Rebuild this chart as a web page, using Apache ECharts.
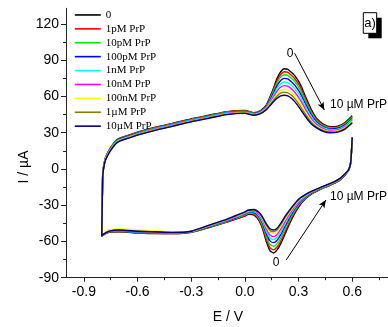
<!DOCTYPE html>
<html><head><meta charset="utf-8">
<script src="https://cdn.jsdelivr.net/npm/echarts@6/dist/echarts.min.js"></script>
<style>html,body{margin:0;padding:0;background:#fff}#c{width:388px;height:327px}</style>
</head><body><div id="c"></div>
<script>
// ---- data ----
const seriesNames = ['0', '1pM PrP', '10pM PrP', '100pM PrP', '1nM PrP', '10nM PrP', '100nM PrP', '1\u00B5M PrP', '10\u00B5M PrP'];
const potentialForward = [-0.8, -0.795, -0.79, -0.78, -0.76, -0.74, -0.72, -0.7, -0.65, -0.6, -0.5, -0.4, -0.3, -0.2, -0.1, 0.0, 0.05, 0.09, 0.12, 0.15, 0.18, 0.2, 0.22, 0.24, 0.26, 0.28, 0.31, 0.34, 0.37, 0.4, 0.44, 0.48, 0.52, 0.56, 0.6];
const potentialReverse = [0.6, 0.595, 0.59, 0.58, 0.56, 0.53, 0.5, 0.46, 0.42, 0.38, 0.34, 0.3, 0.26, 0.23, 0.2, 0.18, 0.16, 0.14, 0.12, 0.1, 0.08, 0.05, 0.02, 0.0, -0.05, -0.1, -0.2, -0.3, -0.4, -0.5, -0.6, -0.7, -0.76, -0.8];

const fwd0    = [-55, -5, 2, 9, 15.5, 20, 23.5, 25.5, 28, 30.5, 34.5, 38, 41.5, 44.5, 47.5, 48.5, 46.5, 48.5, 53, 63, 75, 80.5, 83, 82.5, 80, 77, 70, 59.5, 49.5, 42, 37, 35, 35.5, 38.5, 44];
const fwd1pM  = [-55.1, -5.2, 1.8, 8.8, 15.2, 19.7, 23.2, 25.2, 27.7, 30.2, 34.2, 37.7, 41.2, 44.2, 47.2, 48.2, 46.3, 48.2, 52.5, 62, 73.1, 78.2, 80.5, 80, 77.5, 74.5, 67.7, 57.6, 48.1, 41.1, 36.3, 34.4, 34.9, 37.9, 43.3];
const fwd10pM = [-55.2, -5.5, 1.5, 8.5, 14.9, 19.4, 22.9, 24.9, 27.4, 29.9, 33.9, 37.4, 40.9, 43.9, 46.9, 47.9, 46, 47.9, 52.1, 61, 71.3, 76, 78, 77.5, 75.1, 72.1, 65.3, 55.8, 46.8, 40.2, 35.6, 33.9, 34.4, 37.3, 42.6];
const fwd100pM= [-55.4, -5.7, 1.3, 8.3, 14.6, 19.1, 22.6, 24.6, 27.1, 29.6, 33.6, 37.1, 40.6, 43.6, 46.6, 47.6, 45.8, 47.6, 51.5, 59.7, 69, 73.2, 75, 74.5, 72.2, 69.2, 62.5, 53.5, 45.1, 39.1, 34.8, 33.2, 33.7, 36.5, 41.8];
const fwd1nM  = [-55.5, -6, 1, 8, 14.3, 18.8, 22.3, 24.3, 26.8, 29.3, 33.3, 36.8, 40.3, 43.3, 46.3, 47.3, 45.5, 47.3, 51, 58.5, 66.8, 70.5, 72, 71.5, 69.3, 66.3, 59.8, 51.3, 43.5, 38, 34, 32.5, 33, 35.8, 41];
const fwd10nM = [-55.6, -6.3, 0.7, 7.7, 13.9, 18.4, 21.9, 23.9, 26.4, 28.9, 32.9, 36.4, 39.9, 42.9, 45.9, 46.9, 45.2, 46.9, 50.5, 57.3, 64.5, 67.8, 69, 68.5, 66.3, 63.3, 57, 49, 41.9, 36.9, 33.2, 31.8, 32.3, 35, 40.2];
const fwd100nM= [-55.8, -6.5, 0.5, 7.5, 13.6, 18.1, 21.6, 23.6, 26.1, 28.6, 32.6, 36.1, 39.6, 42.6, 45.6, 46.6, 45, 46.6, 49.9, 56, 62.2, 65, 66, 65.5, 63.4, 60.4, 54.2, 46.7, 40.2, 35.8, 32.4, 31.1, 31.6, 34.2, 39.4];
const fwd1uM  = [-55.9, -6.8, 0.2, 7.2, 13.3, 17.8, 21.3, 23.3, 25.8, 28.3, 32.3, 35.8, 39.3, 42.3, 45.3, 46.3, 44.7, 46.3, 49.5, 55, 60.4, 62.8, 63.5, 63, 61, 58, 51.8, 44.9, 38.9, 34.9, 31.7, 30.6, 31.1, 33.6, 38.7];
const fwd10uM = [-56, -7, 0, 7, 13, 17.5, 21, 23, 25.5, 28, 32, 35.5, 39, 42, 45, 46, 44.5, 46, 49, 54, 58.5, 60.5, 61, 60.5, 58.5, 55.5, 49.5, 43, 37.5, 34, 31, 30, 30.5, 33, 38];

const rev0    = [26, 12, 4, -1, -5, -9.5, -12, -14.5, -17, -20, -24.5, -31.5, -42, -52, -62, -67, -69.5, -67.5, -60, -50, -43, -38, -37.5, -39, -41.5, -44, -48.5, -52.5, -53.5, -53.5, -53, -52, -52.5, -55];
const rev1pM  = [26, 12, 4, -0.9, -4.9, -9.3, -11.8, -14.3, -16.8, -19.7, -24, -30.6, -40.7, -50.2, -59.8, -64.6, -67, -65.1, -58.1, -48.7, -42.1, -37.4, -37, -38.5, -41.1, -43.7, -48.2, -52.4, -53.4, -53.3, -52.8, -51.8, -52.4, -55];
const rev10pM = [26, 12, 4, -0.9, -4.7, -9.1, -11.6, -14.1, -16.6, -19.4, -23.5, -29.6, -39.1, -47.9, -57.1, -61.8, -64, -62.3, -55.8, -47.1, -41, -36.7, -36.5, -38, -40.6, -43.3, -47.9, -52.2, -53.2, -53.1, -52.6, -51.6, -52.2, -55];
const rev100pM= [26, 12, 4, -0.8, -4.6, -8.8, -11.3, -13.8, -16.3, -19.1, -22.9, -28.6, -37.5, -45.7, -54.4, -59, -61, -59.5, -53.5, -45.5, -39.9, -36, -35.9, -37.4, -40.2, -42.9, -47.6, -52.1, -53.1, -52.8, -52.3, -51.3, -52.1, -55.5];
const rev1nM  = [26, 12, 4, -0.7, -4.4, -8.6, -11.1, -13.6, -16.1, -18.8, -22.5, -27.7, -36.2, -43.9, -52.2, -56.6, -58.5, -57.1, -51.6, -44.2, -38.9, -35.4, -35.5, -37, -39.8, -42.6, -47.3, -51.9, -52.9, -52.6, -52.1, -51.1, -51.9, -56];
const rev10nM = [26, 12, 4, -0.6, -4.3, -8.4, -10.9, -13.4, -15.9, -18.6, -22, -26.9, -34.9, -42, -49.9, -54.2, -56, -54.7, -49.7, -42.9, -38, -34.8, -35, -36.5, -39.4, -42.2, -47.1, -51.8, -52.8, -52.4, -51.9, -50.9, -51.8, -55.5];
const rev100nM= [26, 12, 4, -0.6, -4.2, -8.2, -10.7, -13.2, -15.7, -18.3, -21.6, -26, -33.6, -40.2, -47.7, -51.8, -53.5, -52.3, -47.8, -41.6, -37.1, -34.2, -34.6, -36.1, -39, -41.9, -46.8, -51.7, -52.2, -51, -50.5, -49.5, -50.5, -55];
const rev1uM  = [26, 12, 4, -0.5, -4.1, -8.1, -10.6, -13.1, -15.6, -18.2, -21.3, -25.5, -32.8, -39.1, -46.3, -50.4, -52, -50.9, -46.6, -40.8, -36.6, -33.9, -34.3, -35.8, -38.7, -41.7, -46.7, -51.6, -52.6, -52.1, -51.6, -50.6, -51.6, -55];
const rev10uM = [26, 12, 4, -0.5, -4, -8, -10.5, -13, -15.5, -18, -21, -25, -32, -38, -45, -49, -50.5, -49.5, -45.5, -40, -36, -33.5, -34, -35.5, -38.5, -41.5, -46.5, -51.5, -52.5, -52, -51.5, -50.5, -51.5, -55];

const forwardCurrents = [fwd0, fwd1pM, fwd10pM, fwd100pM, fwd1nM, fwd10nM, fwd100nM, fwd1uM, fwd10uM];
const reverseCurrents = [rev0, rev1pM, rev10pM, rev100pM, rev1nM, rev10nM, rev100nM, rev1uM, rev10uM];

const xTickValues = [-0.9, -0.6, -0.3, 0.0, 0.3, 0.6];
const xMinorValues = [-0.75, -0.45, -0.15, 0.15, 0.45, 0.75];
const yTickValues = [-90, -60, -30, 0, 30, 60, 90, 120];
const yMinorValues = [-75, -45, -15, 15, 45, 75, 105];

// annotation anchors (data units)
const arrowTop = [[0.278, 95.8], [0.444, 48.8]];
const arrowBottom = [[0.231, -75.3], [0.453, -25.7]];

// ---- style ----
const colors = ['#000000', '#ff0000', '#00ee00', '#0000ff', '#00ffff', '#ff00ff', '#ffff00', '#808000', '#000080'];
const sans = '"Liberation Sans", Arial, sans-serif';
const serif = '"Liberation Serif", "Times New Roman", serif';

const series = seriesNames.map((name, k) => {
  const data = potentialForward.map((e, i) => [e, forwardCurrents[k][i]])
    .concat([[0.6, '-']])
    .concat(potentialReverse.map((e, i) => [e, reverseCurrents[k][i]]));
  const s = {
    name, type: 'line', data, symbol: 'none', smooth: 0.2,
    connectNulls: false,
    lineStyle: { color: colors[k], width: 1.4 },
    itemStyle: { color: colors[k] },
    xAxisIndex: 0, yAxisIndex: 0, animation: false,
    emphasis: { disabled: true }
  };
  if (k === 0) {
    s.markLine = {
      silent: true, animation: false,
      symbol: ['none', 'arrow'], symbolSize: [5, 8],
      lineStyle: { color: '#000', width: 1, type: 'solid' },
      label: { show: false },
      emphasis: { disabled: true },
      data: [
        [{ coord: arrowTop[0] }, { coord: arrowTop[1] }],
        [{ coord: arrowBottom[0] }, { coord: arrowBottom[1] }]
      ]
    };
  }
  return s;
});

const chart = echarts.init(document.getElementById('c'), null, { renderer: 'canvas' });
chart.setOption({
  animation: false,
  backgroundColor: '#fff',
  grid: { left: 66, right: -2, top: 8.3, bottom: 49.3, containLabel: false },
  legend: {
    orient: 'vertical', left: 74, top: 8, padding: 0,
    itemWidth: 26, itemHeight: 13.9, itemGap: 0,
    itemStyle: { opacity: 0, borderWidth: 0 },
    lineStyle: { width: 1.6 },
    textStyle: { fontFamily: serif, fontSize: 11, color: '#000', lineHeight: 13.9 },
    data: seriesNames, selectedMode: false
  },
  xAxis: [
    {
      type: 'value', min: -1.0, max: 0.8, position: 'bottom',
      axisLine: { show: true, onZero: false, lineStyle: { color: '#222', width: 1 } },
      axisTick: { show: true, customValues: xTickValues, length: 4, lineStyle: { color: '#222' } },
      axisLabel: { customValues: xTickValues, formatter: v => v.toFixed(1), fontFamily: sans, fontSize: 14, color: '#000', margin: 7 },
      splitLine: { show: false }
    },
    {
      type: 'value', min: -1.0, max: 0.8, position: 'bottom',
      axisLine: { show: false, onZero: false },
      axisTick: { show: true, customValues: xMinorValues, length: 2.5, lineStyle: { color: '#222' } },
      axisLabel: { show: false },
      splitLine: { show: false }
    }
  ],
  yAxis: [
    {
      type: 'value', min: -90, max: 133, position: 'left',
      axisLine: { show: true, onZero: false, lineStyle: { color: '#222', width: 1 } },
      axisTick: { show: true, customValues: yTickValues, length: 5, lineStyle: { color: '#222' } },
      axisLabel: { customValues: yTickValues, fontFamily: sans, fontSize: 14, color: '#000', margin: 7 },
      splitLine: { show: false }
    },
    {
      type: 'value', min: -90, max: 133, position: 'left',
      axisLine: { show: false, onZero: false },
      axisTick: { show: true, customValues: yMinorValues, length: 3, lineStyle: { color: '#222' } },
      axisLabel: { show: false },
      splitLine: { show: false }
    }
  ],
  series,
  graphic: [
    { type: 'text', x: 24, y: 167, rotation: Math.PI / 2,
      style: { text: 'I / \u00B5A', font: '14px ' + sans, fill: '#000', textAlign: 'center', textVerticalAlign: 'middle' }, z: 10 },
    { type: 'text', x: 228, y: 317,
      style: { text: 'E / V', font: '14px ' + sans, fill: '#000', textAlign: 'center', textVerticalAlign: 'middle' }, z: 10 },
    { type: 'text', x: 290, y: 54,
      style: { text: '0', font: '12px ' + sans, fill: '#000', textAlign: 'center', textVerticalAlign: 'middle' }, z: 10 },
    { type: 'text', x: 330, y: 105,
      style: { text: '10 \u00B5M PrP', font: '12px ' + sans, fill: '#000', textAlign: 'left', textVerticalAlign: 'middle' }, z: 10 },
    { type: 'text', x: 276, y: 263,
      style: { text: '0', font: '12px ' + sans, fill: '#000', textAlign: 'center', textVerticalAlign: 'middle' }, z: 10 },
    { type: 'text', x: 330, y: 197,
      style: { text: '10 \u00B5M PrP', font: '12px ' + sans, fill: '#000', textAlign: 'left', textVerticalAlign: 'middle' }, z: 10 },
    { type: 'rect', shape: { x: 368.3, y: 17.7, width: 13.4, height: 20.6 }, style: { fill: '#000' }, z: 10 },
    { type: 'rect', shape: { x: 363.3, y: 12.7, width: 13.4, height: 20.6 }, style: { fill: '#fff', stroke: '#000', lineWidth: 1 }, z: 11 },
    { type: 'text', x: 370, y: 23.3,
      style: { text: 'a)', font: '13px ' + sans, fill: '#000', textAlign: 'center', textVerticalAlign: 'middle' }, z: 12 }
  ]
});
</script>
</body></html>
